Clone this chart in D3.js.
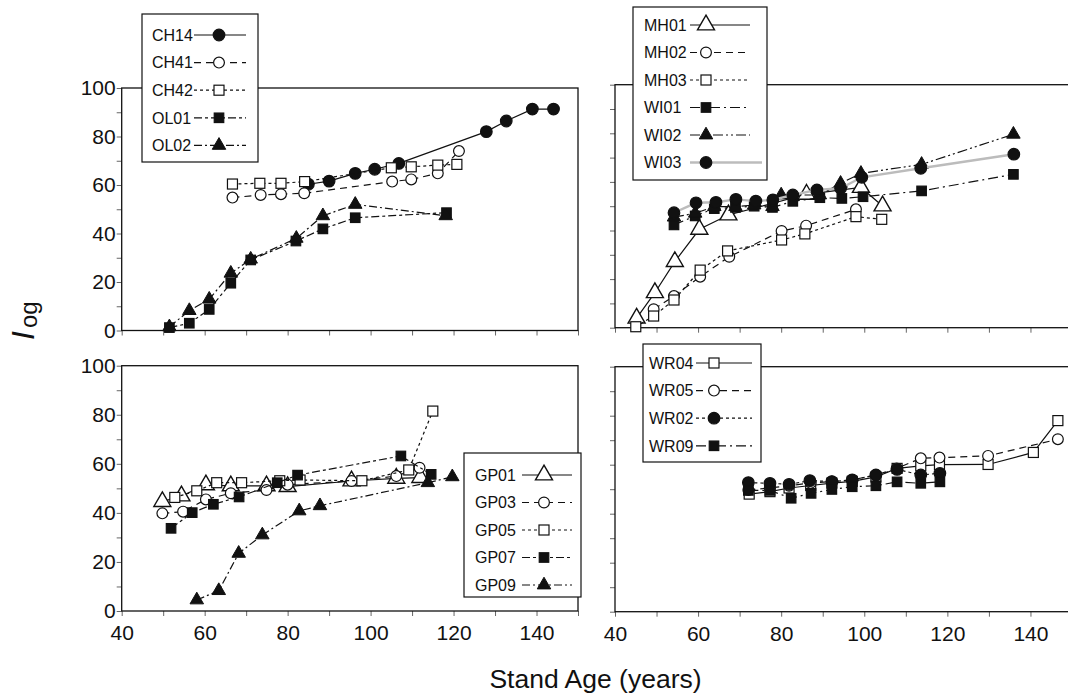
<!DOCTYPE html>
<html>
<head>
<meta charset="utf-8">
<script src="https://cdn.jsdelivr.net/npm/d3@7"></script>
<style>
  body { margin: 0; background: #fff; }
  svg { display: block; }
  text { font-family: "Liberation Sans", Arial, Helvetica, sans-serif; fill: #111; }
</style>
</head>
<body>
<svg id="chart" width="1068" height="696"></svg>
<script>
// ---- Data: [stand age (years), I_og] for each site ----
const CH14 = [[85,60.3],[90,61.6],[96.3,64.8],[101,66.5],[106.8,68.9],[127.9,82],[132.7,86.4],[139,91.3],[144.1,91.3]];
const CH41 = [[66.7,54.8],[73.5,55.9],[78.4,56.2],[84,56.6],[105.2,61.4],[109.8,62.3],[116.2,64.8],[121.3,74]];
const CH42 = [[66.7,60.4],[73.3,60.7],[78.4,60.7],[84.1,61.4],[105,67.1],[109.8,67.5],[116.2,68.2],[120.8,68.5]];
const OL01 = [[51.5,1.2],[56.3,3],[61.1,8.7],[66.3,19.5],[71.1,29.1],[82,36.9],[88.5,41.9],[96.3,46.5],[118.3,48.6]];
const OL02 = [[51.5,1.5],[56.3,8.2],[61.1,12.9],[66.3,23.6],[71.1,29.4],[82.1,38],[88.5,47.3],[96.3,52],[118.1,47.3]];

const MH01 = [[45.2,3.9],[49.6,14.4],[54.4,27.2],[60.3,40.5],[67.3,46.4],[86.1,54.9],[99.2,57.7],[104.4,50.1]];
const MH02 = [[49.3,7.6],[54.2,13],[60.5,21],[67.5,29.2],[80.1,39.8],[86,42],[98,48.7]];
const MH03 = [[45,0.4],[49.3,4.8],[54.2,11.4],[60.5,23.7],[67.1,31.6],[80.1,36.1],[85.7,38.6],[98,45.7],[104.2,44.6]];
const WI01 = [[54.2,42.3],[59.3,46],[63.9,49],[69,49.5],[73.5,50],[77.9,49.5],[82.8,52],[89.3,53.5],[94.6,53.2],[99.7,53.9],[113.8,56.3],[135.9,63.1]];
const WI02 = [[54.2,45.5],[59.3,47.1],[63.9,49.8],[69,49.8],[73.5,50.5],[77.9,49.8],[80,54.6],[89.3,54.6],[94.3,59.4],[99.2,63.5],[113.8,67.2],[135.9,79.6]];
const WI03 = [[54.2,47.3],[59.5,51.4],[64.3,51.6],[69.1,52.8],[73.9,52.1],[78,52.6],[82.8,54.6],[88.6,56.7],[94.3,57.4],[99.4,61.9],[113.6,65.6],[136,71.4]];

const GP01 = [[49.8,44.6],[54.4,46.9],[60.3,51.4],[66.3,51],[74.9,51],[80,50.7],[95.4,53],[106.2,54.1],[112,54.4]];
const GP03 = [[49.8,39.8],[54.8,40.5],[60.3,45.5],[66.3,48],[74.9,49.3],[80,51.5],[95.4,53],[106.2,55],[111.8,58.4]];
const GP05 = [[52.8,46.3],[58.1,49],[62.9,52.3],[68.9,52.3],[78.1,53.1],[83,53.4],[97.9,53.1],[109.2,57.5],[115,81.5]];
const GP07 = [[51.9,33.7],[57,40.1],[62.1,43.5],[68.3,46.5],[77.5,52.3],[82.4,55.4],[107.3,63.2],[114.6,55.7]];
const GP09 = [[58.1,4.5],[63.4,8.3],[68.2,23.5],[73.9,31],[82.8,40.8],[87.8,42.9],[113.8,52.3],[119.7,54.7]];

const WR04 = [[72.3,48],[77.3,49],[81.9,50.5],[87.1,51.5],[92.2,52.5],[97.1,53.2],[102.8,55],[107.9,58.5],[113.6,59.5],[118.1,60],[129.8,60.1],[140.7,65],[146.6,78]];
const WR05 = [[72.1,49.7],[77.3,50.5],[81.9,51.4],[87.1,52.6],[92.2,53.1],[97.1,53.8],[102.8,55.8],[107.8,58.5],[113.6,62.6],[118.1,62.9],[129.8,63.6],[146.6,70.4]];
const WR02 = [[72.1,52.7],[77.3,52.4],[81.9,52],[86.9,53.5],[92.2,53.1],[97.1,53.8],[102.8,55.8],[107.9,58.1],[113.6,55.8],[118.2,56.5]];
const WR09 = [[72.1,49.5],[77.3,49.5],[82.4,46.3],[87.2,48.3],[92.2,49.9],[97.1,51],[102.8,51.4],[107.9,53],[113.6,52.4],[118.2,53]];

// Axis ticks and labels
const xTicks = [40, 50, 60, 70, 80, 90, 100, 110, 120, 130, 140, 150];
const xTickLabels = [40, 60, 80, 100, 120, 140];
const yTicks = [0, 10, 20, 30, 40, 50, 60, 70, 80, 90, 100];
const yTickLabels = [0, 20, 40, 60, 80, 100];

// Line styles
const SOLID = null, DASH = "7,5", SHORT = "3,3", DASHDOT = "8,3,3,3", LONGDOT = "8,3,2,3",
      DASHDOT2 = "10,4,2,4", DASHDOTDOT = "10,3,2,3,2,3";
const GREY = "#bcbcbc";

const panels = [
  { x0: 121.7, x1: 578, y0: 88, y1: 330.5, xLab: false, yLab: true,
    legend: { x: 142, y: 14, w: 116, h: 148, tx: 152, l1: 194, l2: 246, mx: 219, row0: 35, step: 27.6 },
    series: [
      { name: "CH14", data: CH14, mk: "circle", fill: true, dash: SOLID },
      { name: "CH41", data: CH41, mk: "circle", fill: false, dash: DASH },
      { name: "CH42", data: CH42, mk: "square", fill: false, dash: SHORT },
      { name: "OL01", data: OL01, mk: "square", fill: true, dash: DASHDOT },
      { name: "OL02", data: OL02, mk: "triangle", fill: true, dash: LONGDOT }
    ] },
  { x0: 615, x1: 1072, y0: 84.7, y1: 327.7, xLab: false, yLab: false,
    legend: { x: 633, y: 7, w: 134, h: 173, tx: 644, l1: 690, l2: 750, mx: 706, row0: 25, step: 27.5 },
    series: [
      { name: "MH01", data: MH01, mk: "bigtriangle", fill: false, dash: SOLID },
      { name: "MH02", data: MH02, mk: "circle", fill: false, dash: DASH },
      { name: "MH03", data: MH03, mk: "square", fill: false, dash: SHORT },
      { name: "WI01", data: WI01, mk: "square", fill: true, dash: DASHDOT2 },
      { name: "WI02", data: WI02, mk: "triangle", fill: true, dash: DASHDOTDOT },
      { name: "WI03", data: WI03, mk: "circle", fill: true, dash: SOLID, grey: true }
    ] },
  { x0: 121.7, x1: 578, y0: 365.7, y1: 611, xLab: true, yLab: true,
    legend: { x: 464, y: 453, w: 117, h: 144, tx: 475, l1: 522, l2: 572, mx: 544, row0: 475, step: 27.5 },
    series: [
      { name: "GP01", data: GP01, mk: "bigtriangle", fill: false, dash: SOLID },
      { name: "GP03", data: GP03, mk: "circle", fill: false, dash: DASH },
      { name: "GP05", data: GP05, mk: "square", fill: false, dash: SHORT },
      { name: "GP07", data: GP07, mk: "square", fill: true, dash: DASHDOT },
      { name: "GP09", data: GP09, mk: "triangle", fill: true, dash: LONGDOT }
    ] },
  { x0: 615, x1: 1072, y0: 366.7, y1: 611.7, xLab: true, yLab: false,
    legend: { x: 643, y: 344, w: 118, h: 118, tx: 649, l1: 696, l2: 752, mx: 714, row0: 363, step: 27.6 },
    series: [
      { name: "WR04", data: WR04, mk: "square", fill: false, dash: SOLID },
      { name: "WR05", data: WR05, mk: "circle", fill: false, dash: DASH },
      { name: "WR02", data: WR02, mk: "circle", fill: true, dash: SHORT },
      { name: "WR09", data: WR09, mk: "square", fill: true, dash: DASHDOT2 }
    ] }
];

const svg = d3.select("#chart");
const INK = "#111";

function triPath(s) {
  const h = s * Math.sqrt(3) / 2;
  return `M0,${-h * 2 / 3}L${s / 2},${h / 3}L${-s / 2},${h / 3}Z`;
}

function drawMarker(g, kind, fill, cx, cy) {
  const f = fill ? INK : "#fff";
  if (kind === "circle") {
    g.append("circle").attr("cx", cx).attr("cy", cy).attr("r", fill ? 5.8 : 5.4)
      .attr("fill", f).attr("stroke", INK).attr("stroke-width", 1.2);
  } else if (kind === "square") {
    const s = fill ? 9.5 : 10;
    g.append("rect").attr("x", cx - s / 2).attr("y", cy - s / 2).attr("width", s).attr("height", s)
      .attr("fill", f).attr("stroke", INK).attr("stroke-width", 1.2);
  } else if (kind === "triangle") {
    g.append("path").attr("d", triPath(13.5)).attr("transform", `translate(${cx},${cy})`)
      .attr("fill", f).attr("stroke", INK).attr("stroke-width", 1);
  } else if (kind === "bigtriangle") {
    g.append("path").attr("d", triPath(17)).attr("transform", `translate(${cx},${cy})`)
      .attr("fill", f).attr("stroke", INK).attr("stroke-width", 1.4);
  }
}

panels.forEach(p => {
  const x = d3.scaleLinear().domain([40, 150]).range([p.x0, p.x1]);
  const y = d3.scaleLinear().domain([0, 100]).range([p.y1, p.y0]);
  const g = svg.append("g");

  // axes (ticks only, the frame is drawn separately)
  const ya = g.append("g").attr("transform", `translate(${p.x0},0)`)
    .call(d3.axisLeft(y).tickValues(yTicks).tickSize(5).tickPadding(1)
      .tickFormat(d => (p.yLab && yTickLabels.includes(d)) ? d : ""));
  const xa = g.append("g").attr("transform", `translate(0,${p.y1})`)
    .call(d3.axisBottom(x).tickValues(xTicks).tickSize(5).tickPadding(9)
      .tickFormat(d => (p.xLab && xTickLabels.includes(d)) ? d : ""));
  [ya, xa].forEach(a => {
    a.select(".domain").remove();
    a.selectAll(".tick line").attr("stroke", "#666").attr("stroke-width", 1);
    a.selectAll(".tick text").attr("font-size", 21).attr("fill", INK);
  });

  // frame
  g.append("rect").attr("x", p.x0).attr("y", p.y0)
    .attr("width", p.x1 - p.x0).attr("height", p.y1 - p.y0)
    .attr("fill", "none").attr("stroke", INK).attr("stroke-width", 1.3);

  // series: connecting line first, then markers on top
  const line = d3.line().x(d => x(d[0])).y(d => y(d[1]));
  p.series.forEach(s => {
    g.append("path").datum(s.data).attr("d", line).attr("fill", "none")
      .attr("stroke", s.grey ? GREY : INK)
      .attr("stroke-width", s.grey ? 2.4 : 1.2)
      .attr("stroke-dasharray", s.dash);
    const mg = g.append("g");
    s.data.forEach(d => drawMarker(mg, s.mk, s.fill, x(d[0]), y(d[1])));
  });

  // legend box (white fill hides the frame behind it)
  const L = p.legend;
  const lg = g.append("g");
  lg.append("rect").attr("x", L.x).attr("y", L.y).attr("width", L.w).attr("height", L.h)
    .attr("fill", "#fff").attr("stroke", INK).attr("stroke-width", 1.2);
  p.series.forEach((s, i) => {
    const cy = L.row0 + i * L.step;
    lg.append("text").attr("x", L.tx).attr("y", cy).attr("dy", "0.36em")
      .attr("font-size", 16).text(s.name);
    lg.append("line").attr("x1", L.l1).attr("x2", s.grey ? L.l2 + 12 : L.l2)
      .attr("y1", cy).attr("y2", cy)
      .attr("stroke", s.grey ? GREY : INK).attr("stroke-width", s.grey ? 2.4 : 1.2)
      .attr("stroke-dasharray", s.dash);
    drawMarker(lg, s.mk, s.fill, L.mx, cy);
  });
});

// axis titles
svg.append("text").attr("x", 595.5).attr("y", 688).attr("text-anchor", "middle")
  .attr("font-size", 26.5).text("Stand Age (years)");

const yt = svg.append("text").attr("transform", "translate(34,340) rotate(-90)");
yt.append("tspan").attr("font-size", 32).attr("font-style", "italic").text("I");
yt.append("tspan").attr("font-size", 24).attr("dx", 3).attr("dy", 3).text("og");
</script>
</body>
</html>
